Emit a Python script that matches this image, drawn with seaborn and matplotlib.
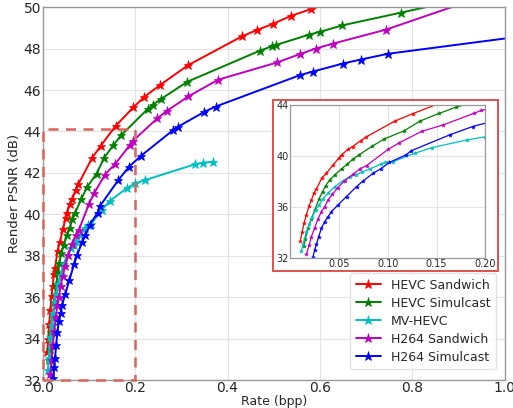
import numpy as np
import pandas as pd
import matplotlib
matplotlib.use("Agg")
import matplotlib.pyplot as plt
from matplotlib.patches import Rectangle
from matplotlib.ticker import FormatStrFormatter
import seaborn as sns

names = ["HEVC Sandwich", "HEVC Simulcast", "MV-HEVC", "H264 Sandwich", "H264 Simulcast"]
colors = ["#ff0000", "#008000", "#00bfbf", "#bf00bf", "#0000ff"]

hevc_sw_x = [0.0103, 0.012, 0.014, 0.0165, 0.0192, 0.0216, 0.0243, 0.0268, 0.0322, 0.037, 0.0439,
             0.0497, 0.0525, 0.059, 0.0638, 0.072, 0.0775, 0.107, 0.126, 0.158, 0.196, 0.220,
             0.254, 0.314, 0.432, 0.463, 0.499, 0.537, 0.580, 0.65]
hevc_sw_y = [33.36, 34.0, 34.72, 35.37, 36.08, 36.52, 37.12, 37.41, 38.25, 38.64, 39.29,
             39.82, 40.08, 40.5, 40.73, 41.18, 41.47, 42.72, 43.32, 44.27, 45.16, 45.67,
             46.24, 47.19, 48.6, 48.89, 49.2, 49.58, 49.9, 50.4]

hevc_sim_x = [0.014, 0.0154, 0.0181, 0.0216, 0.025, 0.0295, 0.033, 0.0363, 0.0405, 0.0456, 0.0525,
              0.0583, 0.0645, 0.0706, 0.0835, 0.0965, 0.1166, 0.133, 0.153, 0.170, 0.227, 0.239,
              0.257, 0.313, 0.470, 0.497, 0.504, 0.576, 0.600, 0.648, 0.776, 0.90]
hevc_sim_y = [32.96, 33.49, 34.33, 35.06, 35.76, 36.63, 37.2, 37.67, 38.12, 38.51, 38.98,
              39.35, 39.76, 40.08, 40.74, 41.33, 41.96, 42.73, 43.34, 43.82, 45.08, 45.3,
              45.58, 46.4, 47.9, 48.12, 48.17, 48.67, 48.81, 49.12, 49.74, 50.35]

mvhevc_x = [0.0113, 0.013, 0.0165, 0.0192, 0.0226, 0.026, 0.0295, 0.0336, 0.0387, 0.0456, 0.0541,
            0.061, 0.0672, 0.073, 0.0816, 0.0926, 0.097, 0.1056, 0.1275, 0.1455, 0.1815, 0.20,
            0.221, 0.329, 0.346, 0.369]
mvhevc_y = [32.5, 33.07, 34.06, 34.64, 35.24, 35.76, 36.16, 36.63, 37.07, 37.59, 38.04,
            38.38, 38.51, 38.72, 38.98, 39.35, 39.48, 39.55, 40.2, 40.65, 41.25, 41.49,
            41.65, 42.41, 42.49, 42.54]

h264_sw_x = [0.0165, 0.0192, 0.0216, 0.025, 0.0284, 0.0319, 0.0353, 0.0387, 0.0432, 0.0487, 0.0556,
             0.0645, 0.0713, 0.0782, 0.1005, 0.1116, 0.1347, 0.157, 0.1888, 0.196, 0.248, 0.268,
             0.315, 0.38, 0.507, 0.556, 0.591, 0.628, 0.742, 0.95]
h264_sw_y = [32.29, 32.97, 33.67, 34.38, 35.06, 35.63, 36.02, 36.55, 37.0, 37.51, 38.04,
             38.56, 38.98, 39.24, 40.52, 41.02, 41.92, 42.43, 43.35, 43.56, 44.63, 44.98,
             45.69, 46.5, 47.33, 47.73, 48.0, 48.24, 48.91, 50.5]

h264_sim_x = [0.0233, 0.025, 0.0268, 0.0291, 0.0319, 0.0353, 0.0387, 0.0422, 0.049, 0.0576, 0.0679,
              0.0748, 0.085, 0.0926, 0.1015, 0.1187, 0.124, 0.1636, 0.187, 0.2126, 0.2825, 0.293,
              0.350, 0.374, 0.557, 0.584, 0.650, 0.688, 0.747, 1.2]
h264_sim_y = [32.1, 32.63, 33.07, 33.67, 34.33, 34.85, 35.24, 35.63, 36.16, 36.81, 37.59,
              38.04, 38.64, 38.98, 39.48, 40.08, 40.4, 41.65, 42.3, 42.82, 44.07, 44.23,
              44.95, 45.2, 46.72, 46.89, 47.28, 47.47, 47.75, 49.07]

series_x = [hevc_sw_x, hevc_sim_x, mvhevc_x, h264_sw_x, h264_sim_x]
series_y = [hevc_sw_y, hevc_sim_y, mvhevc_y, h264_sw_y, h264_sim_y]

main_xticks = [0.0, 0.2, 0.4, 0.6, 0.8, 1.0]
main_yticks = [32, 34, 36, 38, 40, 42, 44, 46, 48, 50]
inset_xticks = [0.05, 0.10, 0.15, 0.20]
inset_yticks = [32, 36, 40, 44]

sns.set_style("whitegrid", {"grid.color": "#e3e3e3", "axes.edgecolor": "#999999"})
plt.rcParams["font.family"] = ["DejaVu Sans"]

fig = plt.figure(figsize=(5.13, 4.08), dpi=100)
ax = fig.add_axes([0.0832, 0.0686, 0.9008, 0.9138])

for nm, c, xs, ys in zip(names, colors, series_x, series_y):
    df = pd.DataFrame({"x": xs, "y": ys})
    sns.lineplot(data=df, x="x", y="y", ax=ax, color=c, marker="*", markersize=6.5,
                 markeredgecolor=c, markeredgewidth=0.5, linewidth=1.4, sort=False,
                 estimator=None, label=nm)

ax.set_xlim(0, 1.0)
ax.set_ylim(32, 50)
ax.set_xticks(main_xticks)
ax.set_yticks(main_yticks)
ax.xaxis.set_major_formatter(FormatStrFormatter("%.1f"))
ax.tick_params(labelsize=10, pad=1, length=0)
ax.set_xlabel("Rate (bpp)", fontsize=9, labelpad=0)
ax.set_ylabel("Render PSNR (dB)", fontsize=9.5, labelpad=2)
for s in ax.spines.values():
    s.set_linewidth(1.0)

ax.add_patch(Rectangle((0.0, 32.0), 0.2, 12.1, fill=False, edgecolor="#d9645a",
                       linewidth=1.8, linestyle=(0, (4, 3)), zorder=5, clip_on=False))

leg = ax.legend(loc="lower right", fontsize=9, frameon=True, handlelength=2.0,
                borderpad=0.45, labelspacing=0.4, handletextpad=0.8,
                bbox_to_anchor=(0.995, 0.012))
leg.get_frame().set_edgecolor("#dddddd")

# red frame around inset
fig.patches.append(Rectangle((0.532, 0.336), 0.439, 0.42, transform=fig.transFigure,
                             fill=True, facecolor="white", edgecolor="#d9544d",
                             linewidth=1.4, zorder=3))

axin = fig.add_axes([0.566, 0.368, 0.380, 0.375])
axin.set_zorder(4)
for nm, c, xs, ys in zip(names, colors, series_x, series_y):
    sns.lineplot(x=xs, y=ys, ax=axin, color=c, marker="*", markersize=3,
                 markeredgecolor=c, markeredgewidth=0.3, linewidth=0.9, sort=False,
                 estimator=None)
axin.set_xlim(0, 0.2)
axin.set_ylim(32, 44)
axin.set_xticks(inset_xticks)
axin.set_yticks(inset_yticks)
axin.xaxis.set_major_formatter(FormatStrFormatter("%.2f"))
axin.tick_params(labelsize=7, pad=1, length=0)
axin.set_xlabel("")
axin.set_ylabel("")
for s in axin.spines.values():
    s.set_linewidth(0.9)

fig.savefig("out.png", dpi=100)
